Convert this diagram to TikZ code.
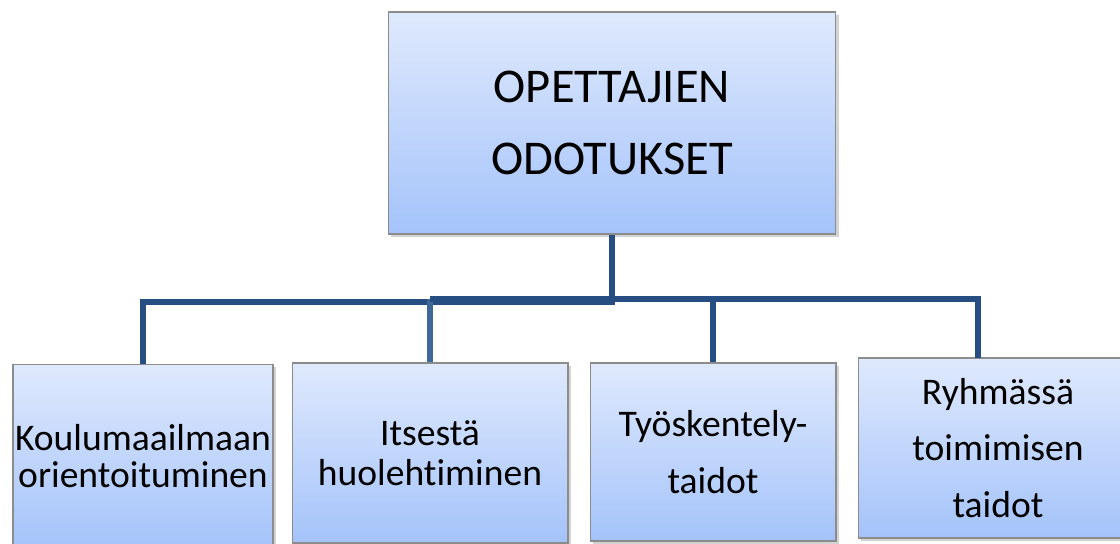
\documentclass[tikz,border=0pt]{standalone}
\usepackage{fontspec}
\setmainfont[Ligatures=NoCommon]{Carlito}
\usetikzlibrary{shadows}

\definecolor{boxtop}{RGB}{223,233,253}
\definecolor{boxbottom}{RGB}{164,195,250}
\definecolor{boxline}{RGB}{140,140,140}
\definecolor{linkblue}{RGB}{39,78,130}
\definecolor{linklight}{RGB}{62,104,152}

\tikzset{
  goalbox/.style={draw=boxline, line width=0.6pt, top color=boxtop, bottom color=boxbottom,
    align=center, inner sep=0pt,
    drop shadow={shadow xshift=1.5pt, shadow yshift=-1.5pt, opacity=0.35}},
  link/.style={draw=linkblue, line width=3pt},
  toptext/.style={font=\fontsize{27.6}{41.4}\selectfont},
  subtext/.style={font=\fontsize{21.4}{#1}\selectfont}
}

\begin{document}
\begin{tikzpicture}[x=0.02cm, y=-0.02cm]
    \useasboundingbox (0,0) rectangle (1120,544);
    % Main box
    \node[goalbox, toptext, minimum width=8.96cm, minimum height=4.44cm] (top) at (612,123) {OPETTAJIEN\\ODOTUKSET};
    % Sub boxes
    \node[goalbox, subtext=21, minimum width=5.2cm, minimum height=3.66cm] (b1) at (143,456) {Koulumaailmaan\\orientoituminen};
    \node[goalbox, subtext=22.7, minimum width=5.52cm, minimum height=3.6cm] (b2) at (430,453) {Itsestä\\huolehtiminen};
    \node[goalbox, subtext=32.9, minimum width=4.92cm, minimum height=3.56cm] (b3) at (713,452) {Työskentely-\\taidot};
    \node[goalbox, subtext=32.3, minimum width=5.6cm, minimum height=3.6cm] (b4) at (998,448) {Ryhmässä\\toimimisen\\taidot};
    % Bus points
    \coordinate (hubA) at (612,302);
    \coordinate (hubB) at (713,299);
    \coordinate (b4in) at (978,358);
    % Connectors
    \draw[link] (b1.north) |- (hubA) -- (top.south);
    \draw[link, draw=linklight] (b2.north) -- (b2.north |- hubB);
    \draw[link] (b2.north |- hubB) -- (hubB) -| (b4in);
    \draw[link] (b3.north) -- (hubB);
\end{tikzpicture}
\end{document}
